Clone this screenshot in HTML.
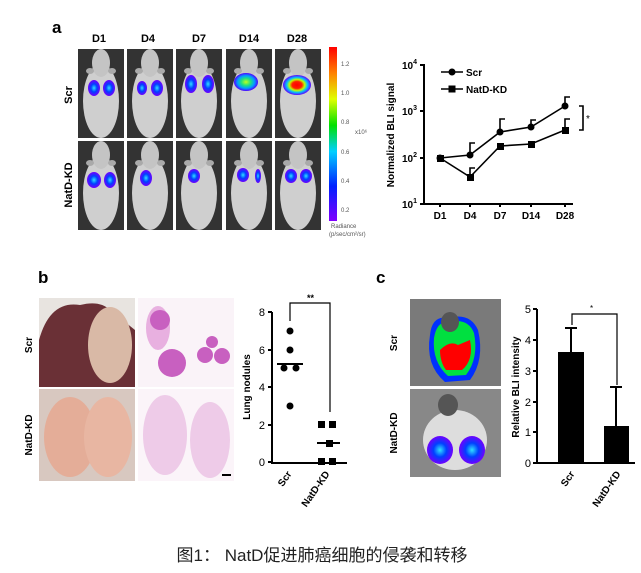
<!DOCTYPE html><html><head><meta charset="utf-8"><style>body{margin:0;background:#fff}svg{display:block}text{font-family:"Liberation Sans",Arial,sans-serif}</style></head><body>
<svg width="641" height="573" viewBox="0 0 641 573" xmlns="http://www.w3.org/2000/svg">
<defs>
<linearGradient id="cb" x1="0" y1="1" x2="0" y2="0"><stop offset="0" stop-color="#8000ff"/><stop offset=".2" stop-color="#0020ff"/><stop offset=".4" stop-color="#00d0ff"/><stop offset=".55" stop-color="#00e000"/><stop offset=".7" stop-color="#e0ff00"/><stop offset=".85" stop-color="#ff8000"/><stop offset="1" stop-color="#ff0000"/></linearGradient>
<radialGradient id="bl"><stop offset="0" stop-color="#30e0ff"/><stop offset=".5" stop-color="#0040ff"/><stop offset="1" stop-color="#7000ff"/></radialGradient>
<radialGradient id="hot"><stop offset="0" stop-color="#ff0000"/><stop offset=".35" stop-color="#ff2000"/><stop offset=".55" stop-color="#c0ff00"/><stop offset=".75" stop-color="#00c0ff"/><stop offset="1" stop-color="#6000ff"/></radialGradient>
<radialGradient id="mid"><stop offset="0" stop-color="#c0ff20"/><stop offset=".4" stop-color="#20e080"/><stop offset=".7" stop-color="#00a0ff"/><stop offset="1" stop-color="#5000ff"/></radialGradient>
<g id="m"><rect width="46" height="89" fill="#333"/><ellipse cx="23" cy="52" rx="18" ry="37" fill="#cfcfcf"/><ellipse cx="23" cy="14" rx="9" ry="14" fill="#c4c4c4"/><ellipse cx="12" cy="22" rx="4" ry="3" fill="#aaa"/><ellipse cx="34" cy="22" rx="4" ry="3" fill="#aaa"/></g>
</defs>
<text x="52" y="33" font-size="17" font-weight="bold">a</text>
<g font-size="11" font-weight="bold" text-anchor="middle"><text x="99" y="42">D1</text><text x="148" y="42">D4</text><text x="199" y="42">D7</text><text x="249" y="42">D14</text><text x="297" y="42">D28</text></g>
<g><use href="#m" x="78" y="49"/><use href="#m" x="127" y="49"/><use href="#m" x="176" y="49"/><use href="#m" x="226" y="49"/><use href="#m" x="275" y="49"/>
<use href="#m" x="78" y="141"/><use href="#m" x="127" y="141"/><use href="#m" x="176" y="141"/><use href="#m" x="226" y="141"/><use href="#m" x="275" y="141"/></g>
<g fill="url(#bl)"><ellipse cx="94" cy="88" rx="6" ry="8"/><ellipse cx="109" cy="88" rx="6" ry="8"/><ellipse cx="142" cy="88" rx="5" ry="7"/><ellipse cx="157" cy="88" rx="6" ry="8"/><ellipse cx="191" cy="84" rx="6" ry="9"/><ellipse cx="208" cy="84" rx="6" ry="9"/>
<ellipse cx="94" cy="180" rx="7" ry="8"/><ellipse cx="110" cy="180" rx="6" ry="8"/><ellipse cx="146" cy="178" rx="6" ry="8"/><ellipse cx="194" cy="176" rx="6" ry="7"/><ellipse cx="243" cy="175" rx="6" ry="7"/><ellipse cx="258" cy="176" rx="3" ry="7"/><ellipse cx="291" cy="176" rx="6" ry="7"/><ellipse cx="306" cy="176" rx="6" ry="7"/></g>
<ellipse cx="246" cy="82" rx="12" ry="9" fill="url(#mid)"/><ellipse cx="297" cy="85" rx="14" ry="10" fill="url(#hot)"/>
<rect x="329" y="47" width="8" height="174" fill="url(#cb)"/>
<g font-size="6" fill="#555"><text x="341" y="66">1.2</text><text x="341" y="95">1.0</text><text x="341" y="124">0.8</text><text x="341" y="154">0.6</text><text x="341" y="183">0.4</text><text x="341" y="212">0.2</text><text x="355" y="134">x10⁶</text><text x="331" y="228">Radiance</text><text x="329" y="236">(p/sec/cm²/sr)</text></g>
<g font-size="11" font-weight="bold" text-anchor="middle"><text transform="translate(72,95) rotate(-90)">Scr</text><text transform="translate(72,185) rotate(-90)">NatD-KD</text></g>
<g stroke="#000" stroke-width="2" fill="none"><path d="M424 64V204H573"/><path d="M424 65h-4M424 111h-4M424 158h-4M424 204h-4M440 204v3M470 204v3M500 204v3M531 204v3M565 204v3"/></g>
<g font-size="10" font-weight="bold" text-anchor="end"><text x="417" y="69">10<tspan font-size="7" dy="-5">4</tspan></text><text x="417" y="115">10<tspan font-size="7" dy="-5">3</tspan></text><text x="417" y="162">10<tspan font-size="7" dy="-5">2</tspan></text><text x="417" y="208">10<tspan font-size="7" dy="-5">1</tspan></text></g>
<g font-size="10" font-weight="bold" text-anchor="middle"><text x="440" y="219">D1</text><text x="470" y="219">D4</text><text x="500" y="219">D7</text><text x="531" y="219">D14</text><text x="565" y="219">D28</text></g>
<text transform="translate(394,135) rotate(-90)" font-size="10" font-weight="bold" text-anchor="middle">Normalized BLI signal</text>
<g stroke="#000" stroke-width="1.6" fill="none"><path d="M440 158L470 155L500 132L531 127L565 106"/><path d="M440 158L470 177L500 146L531 144L565 130"/>
<path d="M470 155V143h5M500 132V119h5M531 127V120h5M565 106V97h5M470 177V168h5M565 130V119h5"/><path d="M579 106h4v24h-4"/></g>
<g fill="#000"><circle cx="440" cy="158" r="3.5"/><circle cx="470" cy="155" r="3.5"/><circle cx="500" cy="132" r="3.5"/><circle cx="531" cy="127" r="3.5"/><circle cx="565" cy="106" r="3.5"/>
<rect x="437" y="155" width="7" height="7"/><rect x="467" y="174" width="7" height="7"/><rect x="497" y="143" width="7" height="7"/><rect x="528" y="141" width="7" height="7"/><rect x="562" y="127" width="7" height="7"/></g>
<path d="M441 72h22M441 89h22" stroke="#000" stroke-width="1.6"/><circle cx="452" cy="72" r="3.5"/><rect x="448.5" y="85.5" width="7" height="7"/>
<g font-size="10" font-weight="bold"><text x="466" y="76">Scr</text><text x="466" y="93">NatD-KD</text><text x="586" y="122" font-weight="normal">*</text></g>
<text x="38" y="283" font-size="17" font-weight="bold">b</text>
<rect x="39" y="298" width="96" height="89" fill="#e8e4e0"/><path d="M39 340Q50 300 80 305Q100 300 110 310L135 330V387H39Z" fill="#6a3036"/><ellipse cx="110" cy="345" rx="22" ry="38" fill="#d9b9a6"/>
<rect x="39" y="389" width="96" height="92" fill="#d8c8c0"/><ellipse cx="70" cy="437" rx="26" ry="40" fill="#e4ad98"/><ellipse cx="108" cy="437" rx="24" ry="40" fill="#e8b6a2"/>
<rect x="138" y="298" width="96" height="89" fill="#faf3f8"/><ellipse cx="158" cy="328" rx="12" ry="22" fill="#e8b0e0"/><circle cx="160" cy="320" r="10" fill="#c860c0"/><circle cx="172" cy="363" r="14" fill="#c860c0"/><circle cx="205" cy="355" r="8" fill="#c860c0"/><circle cx="222" cy="356" r="8" fill="#c860c0"/><circle cx="212" cy="342" r="6" fill="#c860c0"/>
<rect x="138" y="389" width="96" height="92" fill="#fbf4f9"/><ellipse cx="165" cy="435" rx="22" ry="40" fill="#eecbe8"/><ellipse cx="210" cy="440" rx="20" ry="38" fill="#eecbe8"/><rect x="222" y="474" width="9" height="2"/>
<g font-size="10" font-weight="bold" text-anchor="middle"><text transform="translate(32,345) rotate(-90)">Scr</text><text transform="translate(32,435) rotate(-90)">NatD-KD</text></g>
<g stroke="#000" stroke-width="2" fill="none"><path d="M272 312V463H347M272 312h-4M272 350h-4M272 387h-4M272 425h-4M272 462h-4"/></g>
<g font-size="11" text-anchor="end"><text x="265" y="316">8</text><text x="265" y="354">6</text><text x="265" y="391">4</text><text x="265" y="429">2</text><text x="265" y="466">0</text></g>
<text transform="translate(250,387) rotate(-90)" font-size="10" font-weight="bold" text-anchor="middle">Lung nodules</text>
<path d="M290 321V303H330V412" stroke="#000" stroke-width="1.2" fill="none"/><text x="307" y="301" font-size="9" font-weight="bold">**</text>
<g fill="#000"><circle cx="290" cy="331" r="3.5"/><circle cx="290" cy="350" r="3.5"/><circle cx="284" cy="368" r="3.5"/><circle cx="296" cy="368" r="3.5"/><circle cx="290" cy="406" r="3.5"/>
<rect x="318" y="421" width="7" height="7"/><rect x="329" y="421" width="7" height="7"/><rect x="326" y="440" width="7" height="7"/><rect x="318" y="458" width="7" height="7"/><rect x="329" y="458" width="7" height="7"/></g>
<path d="M277 364h26M317 443h23" stroke="#000" stroke-width="2"/>
<g font-size="10" font-weight="bold" text-anchor="end"><text transform="translate(292,474) rotate(-55)">Scr</text><text transform="translate(330,474) rotate(-55)">NatD-KD</text></g>
<text x="376" y="283" font-size="17" font-weight="bold">c</text>
<rect x="410" y="299" width="91" height="87" fill="#7a7a7a"/><path d="M430 335Q432 315 448 318Q470 312 478 330Q485 360 470 380L445 382Q425 365 430 335Z" fill="#0030ff"/><path d="M434 338Q437 320 450 322Q468 318 474 333Q479 358 466 375L448 376Q432 362 434 338Z" fill="#00e040"/><path d="M440 350Q450 340 458 345L470 340Q474 360 462 370H446Q440 362 440 350Z" fill="#ff0000"/><ellipse cx="450" cy="322" rx="9" ry="10" fill="#555"/>
<rect x="410" y="389" width="91" height="88" fill="#888"/><ellipse cx="455" cy="440" rx="32" ry="30" fill="#ddd"/><ellipse cx="440" cy="450" rx="13" ry="14" fill="url(#bl)"/><ellipse cx="472" cy="450" rx="13" ry="14" fill="url(#bl)"/><ellipse cx="448" cy="405" rx="10" ry="11" fill="#555"/>
<g font-size="10" font-weight="bold" text-anchor="middle"><text transform="translate(397,343) rotate(-90)">Scr</text><text transform="translate(397,433) rotate(-90)">NatD-KD</text></g>
<rect x="558" y="352" width="26" height="111"/><rect x="604" y="426" width="25" height="37"/>
<g stroke="#000" stroke-width="2" fill="none"><path d="M537 309V463H635M537 309h-4M537 340h-4M537 371h-4M537 402h-4M537 432h-4M537 463h-4M571 352V328M565 328h12M616 426V387M610 387h12"/></g>
<path d="M572 325V314H617V385" stroke="#000" stroke-width="1.2" fill="none"/><text x="590" y="311" font-size="8">*</text>
<g font-size="11" text-anchor="end"><text x="531" y="313">5</text><text x="531" y="344">4</text><text x="531" y="375">3</text><text x="531" y="406">2</text><text x="531" y="436">1</text><text x="531" y="467">0</text></g>
<text transform="translate(519,387) rotate(-90)" font-size="10" font-weight="bold" text-anchor="middle">Relative BLI intensity</text>
<g font-size="10" font-weight="bold" text-anchor="end"><text transform="translate(575,474) rotate(-55)">Scr</text><text transform="translate(621,474) rotate(-55)">NatD-KD</text></g>
<text x="322" y="561" font-size="17" text-anchor="middle" fill="#222" font-family="'Liberation Sans','Noto Sans CJK SC',sans-serif">图1： NatD促进肺癌细胞的侵袭和转移</text>
</svg></body></html>
